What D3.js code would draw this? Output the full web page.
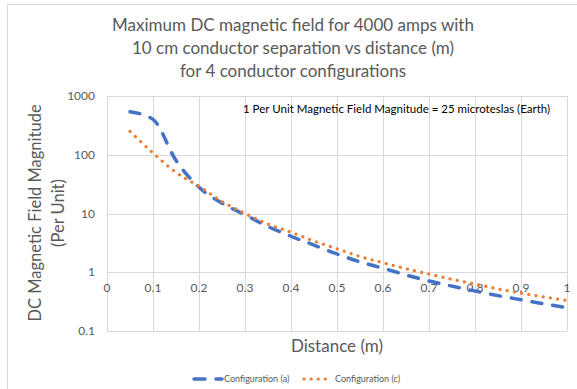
<!DOCTYPE html>
<html>
<head>
<meta charset="utf-8">
<script src="https://cdn.jsdelivr.net/npm/d3@7"></script>
<style>
  body { margin: 0; background: #fff; }
  svg { display: block; font-family: Lato, "Open Sans", sans-serif; }
</style>
</head>
<body>
<svg width="577" height="389"></svg>
<script>
// chart data
var distances = [0.05, 0.1, 0.15, 0.2, 0.25, 0.3, 0.35, 0.4, 0.45, 0.5,
                 0.55, 0.6, 0.65, 0.7, 0.75, 0.8, 0.85, 0.9, 0.95, 1.0];
var configA = [540, 400, 80, 28, 15, 9.5, 6.0, 4.1, 2.9, 2.05,
               1.5, 1.17, 0.9, 0.71, 0.58, 0.48, 0.4, 0.34, 0.29, 0.25];
var configC = [250, 107, 50, 29, 16, 10, 6.6, 4.8, 3.4, 2.5,
               1.85, 1.45, 1.15, 0.93, 0.76, 0.63, 0.52, 0.44, 0.38, 0.33];
var xTicks = [0, 0.1, 0.2, 0.3, 0.4, 0.5, 0.6, 0.7, 0.8, 0.9, 1];
var yTicks = [0.1, 1, 10, 100, 1000];
var titleLines = ["Maximum DC magnetic field for 4000 amps with",
                  "10 cm conductor separation vs distance (m)",
                  "for 4 conductor configurations"];
var seriesNames = ["Configuration (a)", "Configuration (c)"];

var svg = d3.select("svg");
var grey = "#595959", gridCol = "#d9d9d9";

// outer chart border
svg.append("rect")
    .attr("x", 7.5).attr("y", 4.5)
    .attr("width", 580).attr("height", 395)
    .attr("fill", "none").attr("stroke", gridCol);

var x = d3.scaleLinear().domain([0, 1]).range([107, 567]);
var y = d3.scaleLog().domain([0.1, 1000]).range([331, 96]);

// gridlines
svg.append("g").selectAll("line").data(xTicks).enter().append("line")
    .attr("x1", function (d) { return Math.round(x(d)) + 0.5; })
    .attr("x2", function (d) { return Math.round(x(d)) + 0.5; })
    .attr("y1", y(1000)).attr("y2", y(0.1))
    .attr("stroke", gridCol);
svg.append("g").selectAll("line").data(yTicks).enter().append("line")
    .attr("y1", function (d) { return Math.round(y(d)) + 0.5; })
    .attr("y2", function (d) { return Math.round(y(d)) + 0.5; })
    .attr("x1", x(0)).attr("x2", x(1))
    .attr("stroke", gridCol);

// y tick labels
svg.append("g").selectAll("text").data(yTicks).enter().append("text")
    .attr("x", 95).attr("y", function (d) { return y(d) + 4; })
    .attr("text-anchor", "end")
    .attr("font-size", 12).attr("fill", grey)
    .text(function (d) { return d; });

// x tick labels sit on the y=1 crossing line
svg.append("g").selectAll("text").data(xTicks).enter().append("text")
    .attr("x", function (d) { return x(d); })
    .attr("y", y(1) + 20)
    .attr("text-anchor", "middle")
    .attr("font-size", 12).attr("fill", grey)
    .text(function (d) { return d; });

// series
var line = d3.line()
    .x(function (d) { return x(d[0]); })
    .y(function (d) { return y(d[1]); })
    .curve(d3.curveMonotoneX);

svg.append("path")
    .datum(d3.zip(distances, configA))
    .attr("d", line)
    .attr("fill", "none").attr("stroke", "#4472c4")
    .attr("stroke-width", 3.5).attr("stroke-linecap", "round")
    .attr("stroke-dasharray", "10,11");

svg.append("path")
    .datum(d3.zip(distances, configC))
    .attr("d", line)
    .attr("fill", "none").attr("stroke", "#ed7d31")
    .attr("stroke-width", 3.2).attr("stroke-linecap", "round")
    .attr("stroke-dasharray", "0.1,7.2");

// title
svg.append("g").selectAll("text").data(titleLines).enter().append("text")
    .attr("x", 293).attr("y", function (d, i) { return 31 + i * 23; })
    .attr("text-anchor", "middle")
    .attr("font-size", 17).attr("fill", grey)
    .text(function (d) { return d; });

// annotation
svg.append("text")
    .attr("x", 243).attr("y", 113)
    .attr("font-size", 11.5).attr("fill", "#000")
    .text("1 Per Unit Magnetic Field Magnitude = 25 microteslas (Earth)");

// axis titles
svg.append("text")
    .attr("transform", "translate(41,213) rotate(-90)")
    .attr("text-anchor", "middle")
    .attr("font-size", 16.5).attr("fill", grey)
    .text("DC Magnetic Field Magnitude");
svg.append("text")
    .attr("transform", "translate(64,213) rotate(-90)")
    .attr("text-anchor", "middle")
    .attr("font-size", 16.5).attr("fill", grey)
    .text("(Per Unit)");
svg.append("text")
    .attr("x", 337).attr("y", 352)
    .attr("text-anchor", "middle")
    .attr("font-size", 17).attr("fill", grey)
    .text("Distance (m)");

// legend
var legend = svg.append("g");
legend.append("line")
    .attr("x1", 194).attr("x2", 222).attr("y1", 379).attr("y2", 379)
    .attr("stroke", "#4472c4").attr("stroke-width", 3.5)
    .attr("stroke-linecap", "round").attr("stroke-dasharray", "11,11");
legend.append("line")
    .attr("x1", 304).attr("x2", 332).attr("y1", 379).attr("y2", 379)
    .attr("stroke", "#ed7d31").attr("stroke-width", 3.2)
    .attr("stroke-linecap", "round").attr("stroke-dasharray", "0.1,7");
legend.selectAll("text").data(seriesNames).enter().append("text")
    .attr("x", function (d, i) { return i ? 335 : 224; })
    .attr("y", 382)
    .attr("font-size", 9).attr("fill", grey)
    .text(function (d) { return d; });
</script>
</body>
</html>
